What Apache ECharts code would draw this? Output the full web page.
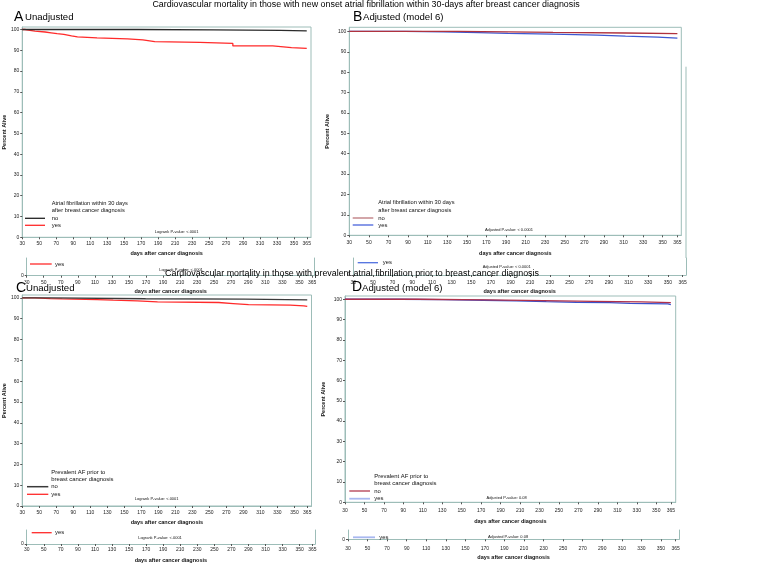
<!DOCTYPE html>
<html><head><meta charset="utf-8">
<script src="https://cdn.jsdelivr.net/npm/echarts@6/dist/echarts.min.js"></script>
<style>html,body{margin:0;padding:0;background:#fff}#c{width:776px;height:569px}</style>
</head><body><div id="c"></div>
<script>
// ---------- data ----------
const xTickValues = [30,50,70,90,110,130,150,170,190,210,230,250,270,290,310,330,350,365];
const yTickValues = [0,10,20,30,40,50,60,70,80,90,100];

const daysA_no  = [30,166,255,334,365];
const survA_no  = [100,99.8,99.6,99.3,99.3];
const daysA_yes = [30,33,39,45,57,64,71,79,88,95,118,154,172,186,239,278,325,347,365];
const survA_yes = [100,99.6,99.2,98.8,98.4,98.0,97.7,96.9,96.4,96.0,95.5,95.0,94.2,93.8,93.3,92.1,91.3,90.9,90.9];

const daysB_no  = [30,141,192,238,312,365];
const survB_no  = [100,99.8,99.5,99.2,98.9,98.9];
const daysB_yes = [30,87,126,162,192,238,283,312,345,365];
const survB_yes = [100,99.8,99.4,99.0,98.7,98.2,97.7,97.2,96.7,96.7];

const daysC_no  = [30,63,175,292,365];
const survC_no  = [100,99.6,99.4,99.1,99.1];
const daysC_yes = [30,45,63,77,118,137,165,189,261,278,296,345,361,365];
const survC_yes = [100,99.7,99.5,99.2,98.9,98.6,98.1,97.8,97.3,96.8,96.5,96.2,95.9,95.9];

const daysD_no  = [30,104,175,234,285,335,365];
const survD_no  = [100,99.7,99.3,99.0,98.7,98.3,98.3];
const daysD_yes = [30,87,131,172,206,237,268,302,323,362,365];
const survD_yes = [100,99.8,99.5,99.2,98.8,98.5,98.3,98.0,97.7,97.3,97.3];

const title1 = 'Cardiovascular mortality in those with new onset atrial fibrillation within 30-days after breast cancer diagnosis';
const title2 = 'Cardiovascular mortality in those with prevalent atrial fibrillation prior to breast cancer diagnosis';
const legendTitleAB = ['Atrial fibrillation within 30 days','after breast cancer diagnosis'];
const legendTitleCD = ['Prevalent AF prior to','breast cancer diagnosis'];
const groups = ['no','yes'];
const pvals = ['Logrank P-value: <.0001','Adjusted P-value: < 0.0001','Logrank P-value: <.0001','Adjusted P-value: 0.08'];
const xName = 'days after cancer diagnosis';
const yName = 'Percent Alive';

// ---------- style ----------
const FF = '"Liberation Sans", Arial, sans-serif';
const BORDER = '#9dbdb8';
const LBL = '#222';
const zip = (a,b) => a.map((v,i)=>[v,b[i]]);

// grids: main A,B,C,D then ghost A,B,C,D
const grids = [
  {left:22, top:27, width:289, height:210.3},
  {left:349.3, top:27.3, width:332, height:208},
  {left:22, top:295, width:289.5, height:211},
  {left:345, top:296, width:330.7, height:206.3},
  {left:26.7, top:258, width:288, height:17.7},
  {left:353.3, top:258, width:332.7, height:17},
  {left:26.7, top:530, width:288.3, height:14},
  {left:348, top:530, width:331, height:9.3}
];
const xMax = [370,369,370,370,368,368.5,368,368.5];
const yMax = [101.2,102,101.4,101.6,8.5,8.5,7,4.6];
const yGap = [15,19,15,19,0,0,0,0];
const lblMargin = [4,5,4,6,4,5,3,7];
const nameGap = [13,15,13,16,13,13,13,15];

const xAxes = [], yAxes = [];
grids.forEach((g,i)=>{
  const ghost = i>=4;
  xAxes.push({
    type:'value', gridIndex:i, min:30, max:xMax[i],
    axisLine:{show:true, lineStyle:{color:BORDER, width:1}},
    axisTick:{show:true, length:2, lineStyle:{color:'#555'}, customValues:xTickValues},
    axisLabel:{show:true, fontSize:5, color:LBL, fontFamily:FF, margin:lblMargin[i], customValues:xTickValues},
    splitLine:{show:false},
    name:xName, nameLocation:'middle', nameGap:nameGap[i],
    nameTextStyle:{fontSize:5.5, fontWeight:'bold', color:'#111', fontFamily:FF}
  });
  yAxes.push({
    type:'value', gridIndex:i, min:0, max:yMax[i],
    axisLine:{show:true, lineStyle:{color:BORDER, width:1}},
    axisTick:{show:true, length:2, lineStyle:{color:'#555'}, customValues: ghost?[0]:yTickValues},
    axisLabel:{show:true, fontSize:5, color:LBL, fontFamily:FF, margin:3, customValues: ghost?[0]:yTickValues},
    splitLine:{show:false},
    name: ghost ? '' : yName, nameLocation:'middle', nameGap:yGap[i], nameRotate:90,
    nameTextStyle:{fontSize:5.5, fontWeight:'bold', color:'#111', fontFamily:FF}
  });
  if (ghost) {
    yAxes.push({
      type:'value', gridIndex:i, min:0, max:yMax[i], position:'right',
      axisLine:{show:true, lineStyle:{color:BORDER, width:1}},
      axisTick:{show:false}, axisLabel:{show:false}, splitLine:{show:false}
    });
  }
});

function stepSeries(name, gi, days, surv, color, width, z){
  return {
    type:'line', name, xAxisIndex:gi, yAxisIndex:gi, data:zip(days,surv),
    step:'end', showSymbol:false, symbol:'none', silent:true, z:z||2,
    lineStyle:{color, width:width||1.3}, animation:false
  };
}

const series = [
  stepSeries('no',0,daysA_no,survA_no,'#2b2b2b',1.3,3),
  stepSeries('yes',0,daysA_yes,survA_yes,'#ff2a2a',1.3,2),
  stepSeries('yes',1,daysB_yes,survB_yes,'#3d58d2',1.3,2),
  stepSeries('no',1,daysB_no,survB_no,'#b0323e',1.3,3),
  stepSeries('no',2,daysC_no,survC_no,'#3a3a3a',1.3,3),
  stepSeries('yes',2,daysC_yes,survC_yes,'#ff2a2a',1.3,2),
  stepSeries('yes',3,daysD_yes,survD_yes,'#3a52cc',1.3,2),
  stepSeries('no',3,daysD_no,survD_no,'#b0304a',1.3,3)
];

// ---------- annotations ----------
const G = [];
function txt(t,x,y,size,opts){
  opts = opts||{};
  G.push({type:'text', z:100, silent:true, style:{
    text:t, x, y, fill:opts.fill||'#111',
    font:(opts.bold?'bold ':'')+size+'px '+FF,
    textAlign:opts.align||'left', textVerticalAlign:'middle',
    align:opts.align||'left', verticalAlign:'middle'
  }});
}
function ln(x1,y1,x2,y2,color,w){
  G.push({type:'line', z:100, silent:true, shape:{x1,y1,x2,y2}, style:{stroke:color, lineWidth:w||1.3}});
}
// titles
txt(title1, 366, 5, 8.9, {align:'center', fill:'#000'});
txt(title2, 352, 274, 8.9, {align:'center', fill:'#000'});
// panel labels
txt('A',14,17,14,{fill:'#000'}); txt('Unadjusted',25,17.5,9.6,{fill:'#000'});
txt('B',353,17,14,{fill:'#000'}); txt('Adjusted (model 6)',363,17.5,9.6,{fill:'#000'});
txt('C',16,288,14,{fill:'#000'}); txt('Unadjusted',26,288.5,9.6,{fill:'#000'});
txt('D',352,287.5,14,{fill:'#000'}); txt('Adjusted (model 6)',362,288,9.6,{fill:'#000'});

// legend A
txt(legendTitleAB[0],51.7,203.3,5.7); txt(legendTitleAB[1],51.7,210.7,5.7);
ln(25,218.3,45,218.3,'#222'); txt(groups[0],51.7,218.3,5.9);
ln(25,225.3,45,225.3,'#ff2a2a'); txt(groups[1],51.7,225.3,5.9);
txt(pvals[0],176.7,231.7,4,{align:'center'});
// legend B
txt(legendTitleAB[0],378.3,202.3,5.7); txt(legendTitleAB[1],378.3,210,5.7);
ln(352.7,218,373.3,218,'#c89094',1.6); txt(groups[0],378.3,218,5.9);
ln(352.7,225,373.3,225,'#4a64dc',1.3); txt(groups[1],378.3,225,5.9);
txt(pvals[1],509,230,4,{align:'center'});
// legend C
txt(legendTitleCD[0],51.3,472.3,5.9); txt(legendTitleCD[1],51.3,479.3,5.9);
ln(27,486.7,48.3,486.7,'#3a3a3a',1.5); txt(groups[0],51.3,486.7,5.9);
ln(27,494.3,48.3,494.3,'#ff2a2a'); txt(groups[1],51.3,494.3,5.9);
txt(pvals[2],156.7,499.3,4,{align:'center'});
// legend D
txt(legendTitleCD[0],374.3,476,5.9); txt(legendTitleCD[1],374.3,483.3,5.9);
ln(349.3,491,370,491,'#b03a50'); txt(groups[0],374.3,491,5.9);
ln(349.3,498.7,370,498.7,'#a8b8f0',1.8); txt(groups[1],374.3,498.7,5.9);
txt(pvals[3],506.7,498.3,4,{align:'center'});

// ghost strips
ln(30,264,51.7,264,'#ff2a2a'); txt(groups[1],55,264,5.9);
txt(pvals[0],181,270,4,{align:'center'});
ln(357.7,262.7,378,262.7,'#5070e0'); txt(groups[1],382.7,262.7,5.9);
txt(pvals[1],506.7,267.3,4,{align:'center'});
ln(686,66.7,686,258,BORDER,1);
ln(31.7,532.7,51.7,532.7,'#ff2a2a'); txt(groups[1],55,532.7,5.9);
txt(pvals[2],160,538,4,{align:'center'});
ln(353,537.3,375,537.3,'#a8b8f0',1.8); txt(groups[1],379.3,537.3,5.9);
txt(pvals[3],508,536.7,4,{align:'center'});

const chart = echarts.init(document.getElementById('c'), null, {renderer:'canvas'});
chart.setOption({
  animation:false,
  backgroundColor:'#fff',
  grid: grids.map((g,i)=>Object.assign({show:i<4, borderColor:BORDER, borderWidth:1, containLabel:false}, g)),
  xAxis:xAxes,
  yAxis:yAxes,
  series,
  graphic:G
});
</script>
</body></html>
